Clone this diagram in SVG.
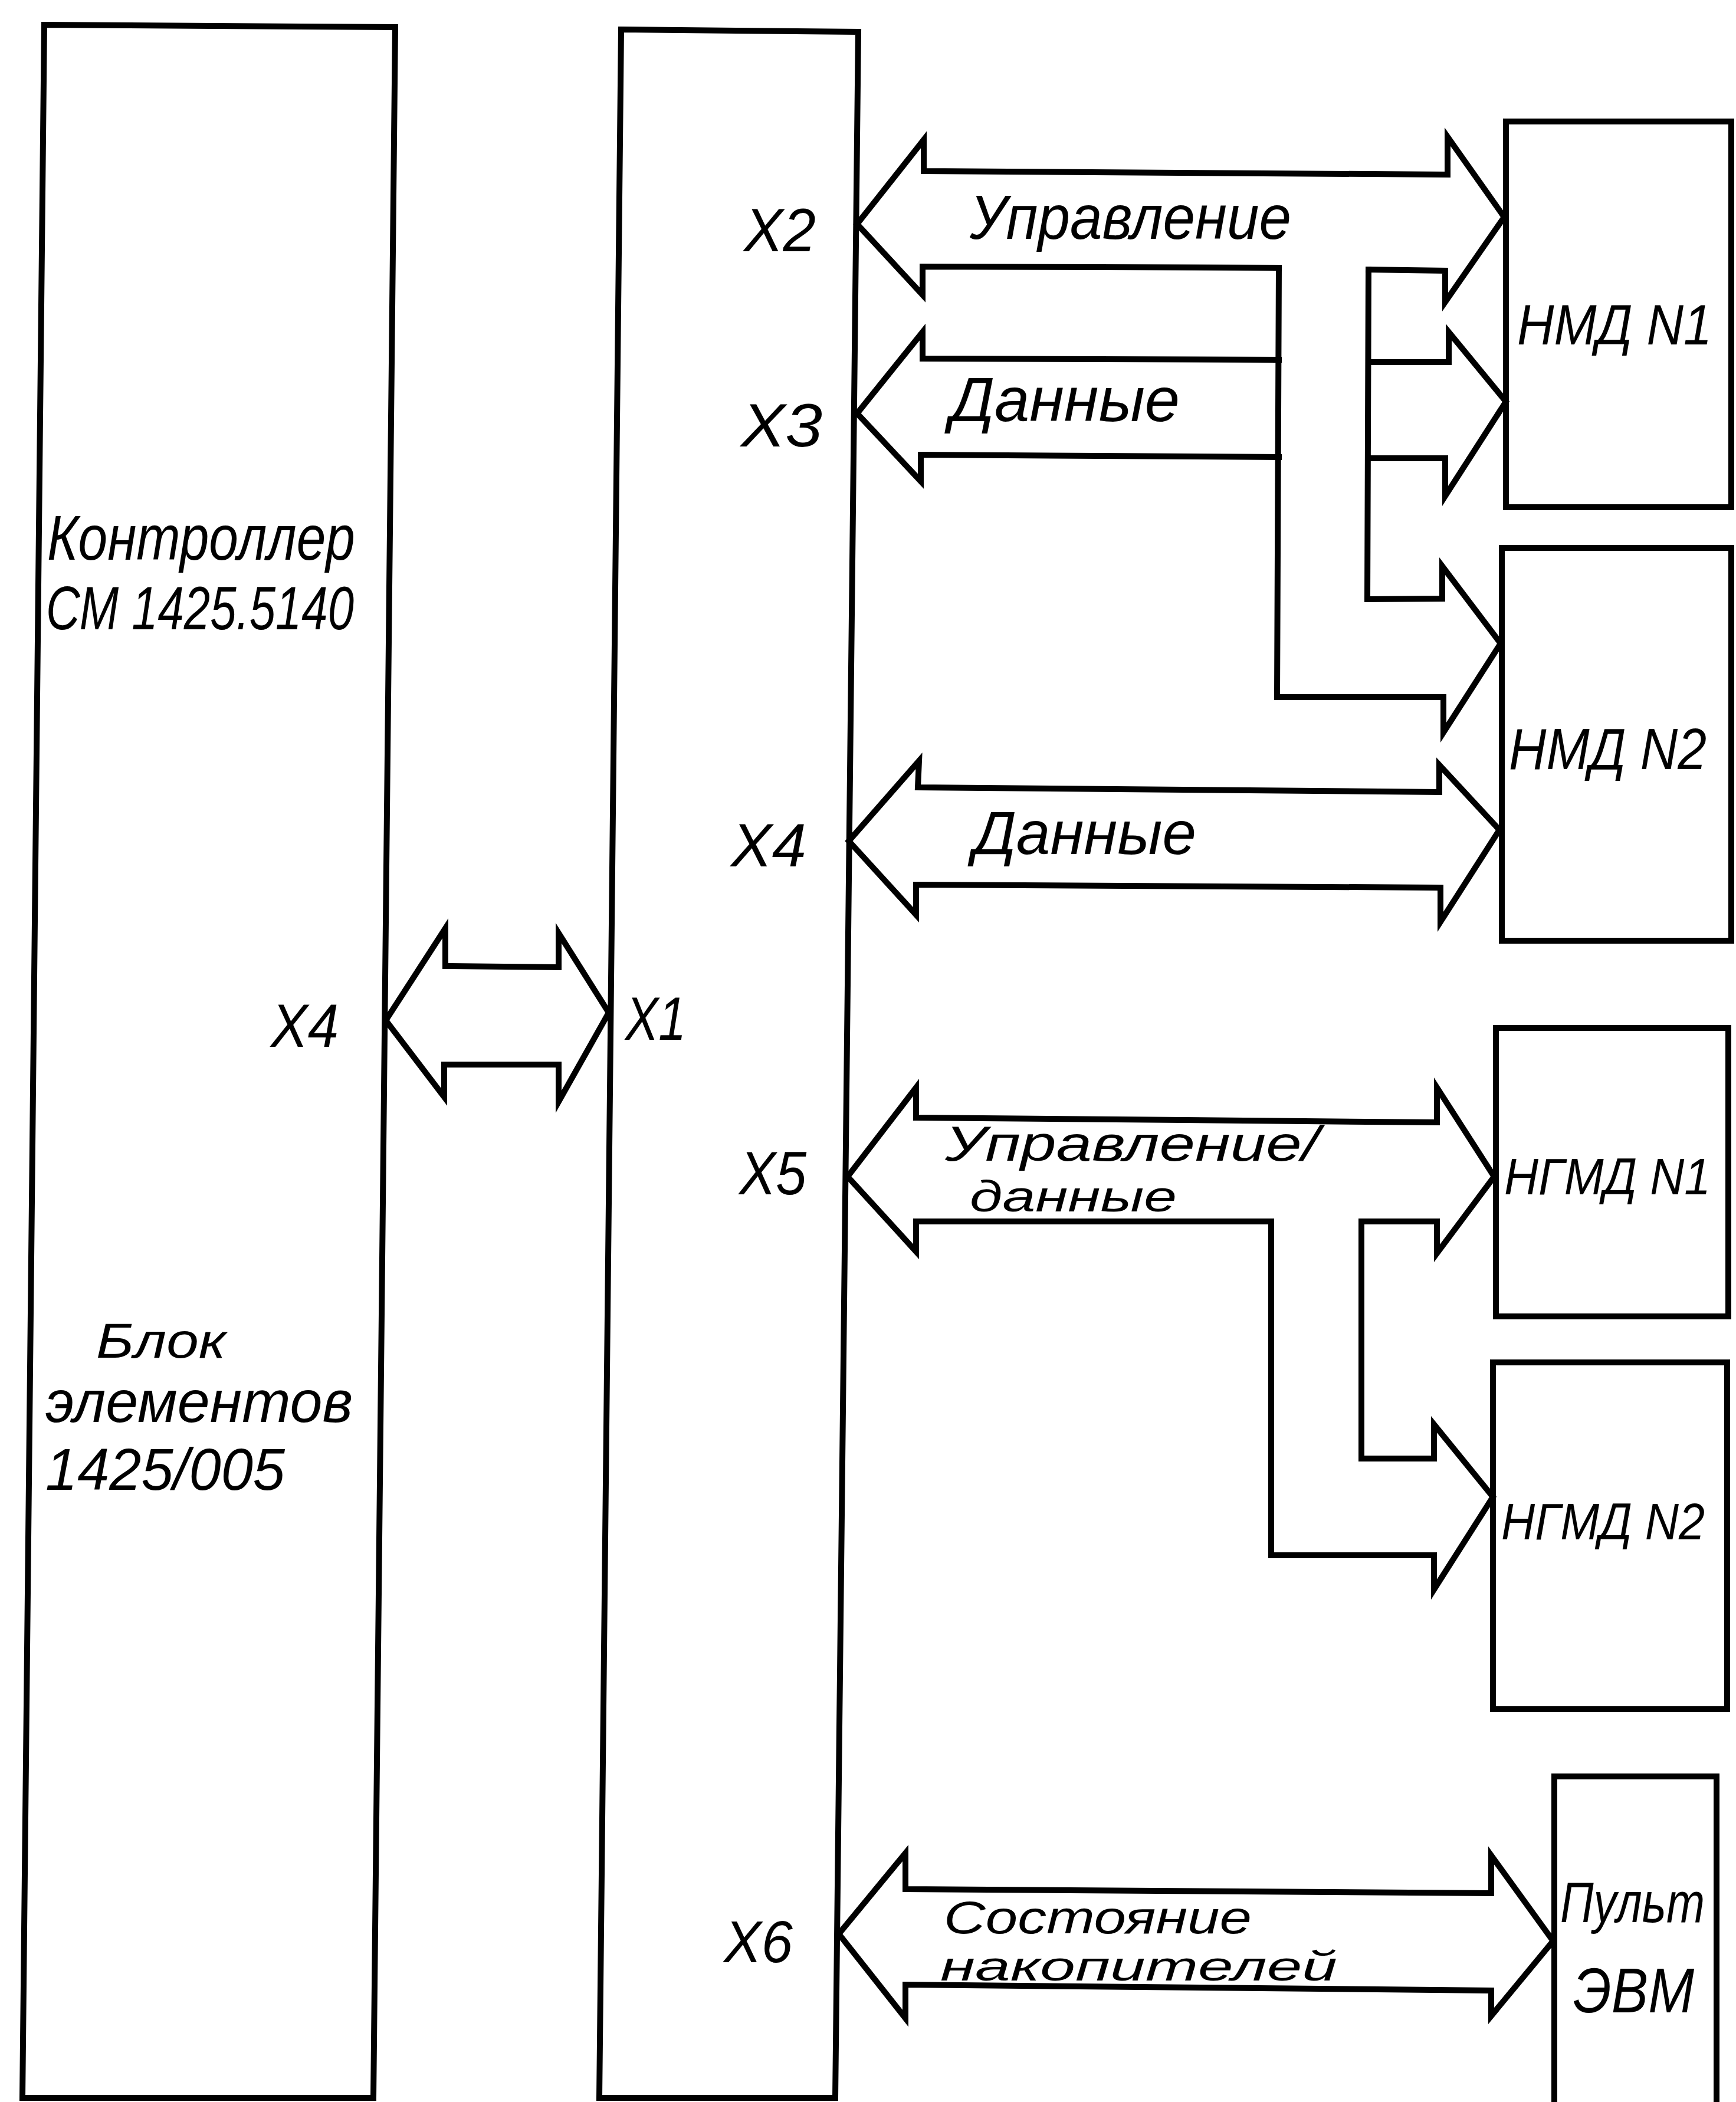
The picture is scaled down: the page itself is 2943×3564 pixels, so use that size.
<svg xmlns="http://www.w3.org/2000/svg" width="2943" height="3564" viewBox="0 0 2943 3564">
<style>
.blk{fill:none;stroke:#000;stroke-width:10;stroke-linejoin:miter}
.ln{fill:none;stroke:#000;stroke-width:10;stroke-linejoin:miter;stroke-linecap:square}
.t{font-family:"Liberation Sans",Arial,sans-serif;font-style:italic;fill:#000}
</style>
<rect x="0" y="0" width="2943" height="3564" fill="#fff"/>
<g id="controller">
<path class="blk" d="M75,42 L670,46 L633,3557 L38,3557 Z"/>
<text class="t" font-size="108"><tspan x="80" y="949" textLength="522" lengthAdjust="spacingAndGlyphs">Контроллер</tspan><tspan x="78" y="1067" font-size="104" textLength="522" lengthAdjust="spacingAndGlyphs">СМ 1425.5140</tspan></text>
<text class="t" font-size="100"><tspan x="163" y="2302" font-size="84" textLength="220" lengthAdjust="spacingAndGlyphs">Блок</tspan><tspan x="77" y="2411" textLength="521" lengthAdjust="spacingAndGlyphs">элементов</tspan><tspan x="77" y="2526" textLength="406" lengthAdjust="spacingAndGlyphs">1425/005</tspan></text>
<text class="t" x="459" y="1775" font-size="104" textLength="115" lengthAdjust="spacingAndGlyphs">X4</text>
</g>
<g id="interface">
<path class="blk" d="M1053,50 L1455,54 L1416,3557 L1016,3557 Z"/>
<text class="t" x="1060" y="1763" font-size="104" textLength="103" lengthAdjust="spacingAndGlyphs">X1</text>
<text class="t" x="1261" y="426" font-size="104" textLength="122" lengthAdjust="spacingAndGlyphs">X2</text>
<text class="t" x="1256" y="757" font-size="104" textLength="138" lengthAdjust="spacingAndGlyphs">X3</text>
<text class="t" x="1239" y="1469" font-size="104" textLength="128" lengthAdjust="spacingAndGlyphs">X4</text>
<text class="t" x="1253" y="2025" font-size="104" textLength="114" lengthAdjust="spacingAndGlyphs">X5</text>
<text class="t" x="1227" y="3327" font-size="100" textLength="117" lengthAdjust="spacingAndGlyphs">X6</text>
</g>
<g id="nmd1">
<rect class="blk" x="2553" y="206" width="382" height="654"/>
<text class="t" x="2572" y="584" font-size="96" textLength="330" lengthAdjust="spacingAndGlyphs">НМД N1</text>
</g>
<g id="nmd2">
<rect class="blk" x="2546" y="929" width="389" height="666"/>
<text class="t" x="2558" y="1304" font-size="98" textLength="335" lengthAdjust="spacingAndGlyphs">НМД N2</text>
</g>
<g id="ngmd1">
<rect class="blk" x="2536" y="1743" width="394" height="489"/>
<text class="t" x="2550" y="2025" font-size="88" textLength="350" lengthAdjust="spacingAndGlyphs">НГМД N1</text>
</g>
<g id="ngmd2">
<rect class="blk" x="2531" y="2310" width="397" height="588"/>
<text class="t" x="2545" y="2610" font-size="88" textLength="345" lengthAdjust="spacingAndGlyphs">НГМД N2</text>
</g>
<g id="console">
<path class="blk" d="M2635,3600 L2635,3012 L2910,3012 L2910,3600"/>
<text class="t" font-size="96"><tspan x="2645" y="3259" textLength="245" lengthAdjust="spacingAndGlyphs">Пульт</tspan><tspan x="2667" y="3412" font-size="108" textLength="205" lengthAdjust="spacingAndGlyphs">ЭВМ</tspan></text>
</g>
<g id="connectors">
<path class="ln" d="M755,1638 L755,1574 L654,1730 L753,1860 L753,1805 L947,1805 L947,1868 L1032,1717 L947,1582 L947,1640 Z"/>
<path class="ln" d="M2168,454 L1564,452 L1564,500 L1453,380 L1566,237 L1566,290 L2454,296 L2454,232 L2550,368 L2450,512 L2450,459 L2320,457"/>
<path class="ln" d="M2168,610 L1564,608 L1564,563 L1453,701 L1561,816 L1561,771 L2168,775"/>
<path class="ln" d="M2168,454 L2165,1182 L2447,1182 L2447,1242 L2544,1091 L2445,960 L2445,1015 L2318,1016 L2320,457"/>
<path class="ln" d="M2320,614 L2456,614 L2456,563 L2553,681 L2450,841 L2450,777 L2320,777"/>
<path class="ln" d="M1556,1335 L1558,1290 L1439,1426 L1553,1551 L1553,1500 L2442,1505 L2442,1563 L2542,1407 L2440,1297 L2440,1343 Z"/>
<path class="ln" d="M2155,2071 L1553,2071 L1553,2122 L1437,1995 L1553,1844 L1553,1895 L2436,1903 L2436,1844 L2533,1995 L2436,2125 L2436,2071 L2308,2071 L2308,2473 L2431,2473 L2431,2415 L2531,2538 L2431,2695 L2431,2637 L2155,2637 Z"/>
<path class="ln" d="M1535,3203 L1535,3142 L1422,3279 L1535,3422 L1535,3365 L2528,3375 L2528,3418 L2633,3291 L2528,3146 L2528,3210 Z"/>
<text class="t" x="1644" y="405" font-size="106" textLength="545" lengthAdjust="spacingAndGlyphs">Управление</text>
<text class="t" x="1611" y="714" font-size="106" textLength="389" lengthAdjust="spacingAndGlyphs">Данные</text>
<text class="t" x="1650" y="1448" font-size="104" textLength="378" lengthAdjust="spacingAndGlyphs">Данные</text>
<text class="t"><tspan x="1602" y="1968" font-size="84" textLength="635" lengthAdjust="spacingAndGlyphs">Управление/</tspan><tspan x="1644" y="2054" font-size="75" textLength="351" lengthAdjust="spacingAndGlyphs">данные</tspan></text>
<text class="t"><tspan x="1600" y="3278" font-size="78" textLength="522" lengthAdjust="spacingAndGlyphs">Состояние</tspan><tspan x="1594" y="3358" font-size="70" textLength="673" lengthAdjust="spacingAndGlyphs">накопителей</tspan></text>
</g>
</svg>
